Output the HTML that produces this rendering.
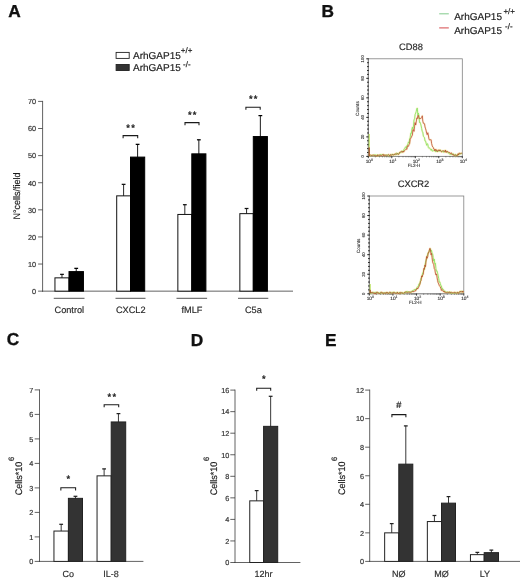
<!DOCTYPE html>
<html lang="en">
<head>
<meta charset="utf-8">
<title>ArhGAP15 figure</title>
<style>
html,body{margin:0;padding:0;background:#fff;}
body{width:520px;height:581px;overflow:hidden;font-family:"Liberation Sans",sans-serif;}
svg{display:block;will-change:transform;text-rendering:geometricPrecision;font-family:"Liberation Sans",sans-serif;}
</style>
</head>
<body>
<svg width="520" height="581" viewBox="0 0 520 581">
<rect x="0" y="0" width="520" height="581" fill="#fff"/>
<text x="8.30" y="16.70" font-size="17.3" text-anchor="start" fill="#111" font-weight="bold" stroke="#111" stroke-width="0.35">A</text>
<text x="321.50" y="16.70" font-size="17.3" text-anchor="start" fill="#111" font-weight="bold" stroke="#111" stroke-width="0.35">B</text>
<text x="6.70" y="345.40" font-size="17.3" text-anchor="start" fill="#111" font-weight="bold" stroke="#111" stroke-width="0.35">C</text>
<text x="190.80" y="345.90" font-size="17.3" text-anchor="start" fill="#111" font-weight="bold" stroke="#111" stroke-width="0.35">D</text>
<text x="325.00" y="345.70" font-size="17.3" text-anchor="start" fill="#111" font-weight="bold" stroke="#111" stroke-width="0.35">E</text>
<line x1="42.60" y1="100.90" x2="42.60" y2="291.65" stroke="#3a3a3a" stroke-width="0.8"/>
<line x1="38.10" y1="291.15" x2="42.60" y2="291.15" stroke="#3a3a3a" stroke-width="0.8"/>
<text x="36.10" y="293.96" font-size="7.3" text-anchor="end" fill="#333" font-weight="normal"  stroke="#333" stroke-width="0.18">0</text>
<line x1="38.10" y1="264.04" x2="42.60" y2="264.04" stroke="#3a3a3a" stroke-width="0.8"/>
<text x="36.10" y="266.85" font-size="7.3" text-anchor="end" fill="#333" font-weight="normal"  stroke="#333" stroke-width="0.18">10</text>
<line x1="38.10" y1="236.94" x2="42.60" y2="236.94" stroke="#3a3a3a" stroke-width="0.8"/>
<text x="36.10" y="239.75" font-size="7.3" text-anchor="end" fill="#333" font-weight="normal"  stroke="#333" stroke-width="0.18">20</text>
<line x1="38.10" y1="209.83" x2="42.60" y2="209.83" stroke="#3a3a3a" stroke-width="0.8"/>
<text x="36.10" y="212.64" font-size="7.3" text-anchor="end" fill="#333" font-weight="normal"  stroke="#333" stroke-width="0.18">30</text>
<line x1="38.10" y1="182.72" x2="42.60" y2="182.72" stroke="#3a3a3a" stroke-width="0.8"/>
<text x="36.10" y="185.53" font-size="7.3" text-anchor="end" fill="#333" font-weight="normal"  stroke="#333" stroke-width="0.18">40</text>
<line x1="38.10" y1="155.61" x2="42.60" y2="155.61" stroke="#3a3a3a" stroke-width="0.8"/>
<text x="36.10" y="158.42" font-size="7.3" text-anchor="end" fill="#333" font-weight="normal"  stroke="#333" stroke-width="0.18">50</text>
<line x1="38.10" y1="128.51" x2="42.60" y2="128.51" stroke="#3a3a3a" stroke-width="0.8"/>
<text x="36.10" y="131.32" font-size="7.3" text-anchor="end" fill="#333" font-weight="normal"  stroke="#333" stroke-width="0.18">60</text>
<line x1="38.10" y1="101.40" x2="42.60" y2="101.40" stroke="#3a3a3a" stroke-width="0.8"/>
<text x="36.10" y="104.21" font-size="7.3" text-anchor="end" fill="#333" font-weight="normal"  stroke="#333" stroke-width="0.18">70</text>
<line x1="42.10" y1="291.15" x2="293.00" y2="291.15" stroke="#3a3a3a" stroke-width="0.8"/>
<text transform="translate(20.20,219.60) rotate(-90) scale(1,1.06)" font-size="9" fill="#1a1a1a" stroke="#1a1a1a" stroke-width="0.15">N°cells/field</text>
<line x1="61.98" y1="274.25" x2="61.98" y2="278.35" stroke="#111" stroke-width="0.9"/>
<line x1="60.08" y1="274.35" x2="63.88" y2="274.35" stroke="#111" stroke-width="1.25"/>
<rect x="54.95" y="277.85" width="14.05" height="13.30" fill="#fff" stroke="#111" stroke-width="1"/>
<line x1="76.22" y1="268.25" x2="76.22" y2="272.10" stroke="#000" stroke-width="0.9"/>
<line x1="74.32" y1="268.35" x2="78.12" y2="268.35" stroke="#000" stroke-width="1.25"/>
<rect x="69.00" y="271.60" width="14.45" height="19.55" fill="#000" stroke="#000" stroke-width="1"/>
<line x1="123.60" y1="184.25" x2="123.60" y2="196.35" stroke="#111" stroke-width="0.9"/>
<line x1="121.70" y1="184.35" x2="125.50" y2="184.35" stroke="#111" stroke-width="1.25"/>
<rect x="116.70" y="195.85" width="13.80" height="95.30" fill="#fff" stroke="#111" stroke-width="1"/>
<line x1="137.60" y1="144.25" x2="137.60" y2="157.60" stroke="#000" stroke-width="0.9"/>
<line x1="135.70" y1="144.35" x2="139.50" y2="144.35" stroke="#000" stroke-width="1.25"/>
<rect x="130.50" y="157.10" width="14.20" height="134.05" fill="#000" stroke="#000" stroke-width="1"/>
<line x1="184.82" y1="204.60" x2="184.82" y2="214.95" stroke="#111" stroke-width="0.9"/>
<line x1="182.92" y1="204.70" x2="186.72" y2="204.70" stroke="#111" stroke-width="1.25"/>
<rect x="177.85" y="214.45" width="13.95" height="76.70" fill="#fff" stroke="#111" stroke-width="1"/>
<line x1="198.85" y1="139.70" x2="198.85" y2="154.35" stroke="#000" stroke-width="0.9"/>
<line x1="196.95" y1="139.80" x2="200.75" y2="139.80" stroke="#000" stroke-width="1.25"/>
<rect x="191.80" y="153.85" width="14.10" height="137.30" fill="#000" stroke="#000" stroke-width="1"/>
<line x1="246.57" y1="208.40" x2="246.57" y2="214.15" stroke="#111" stroke-width="0.9"/>
<line x1="244.67" y1="208.50" x2="248.47" y2="208.50" stroke="#111" stroke-width="1.25"/>
<rect x="239.85" y="213.65" width="13.45" height="77.50" fill="#fff" stroke="#111" stroke-width="1"/>
<line x1="260.35" y1="115.50" x2="260.35" y2="137.05" stroke="#000" stroke-width="0.9"/>
<line x1="258.45" y1="115.60" x2="262.25" y2="115.60" stroke="#000" stroke-width="1.25"/>
<rect x="253.30" y="136.55" width="14.10" height="154.60" fill="#000" stroke="#000" stroke-width="1"/>
<path d="M123.10,138.20 V135.60 H137.70 V138.20" fill="none" stroke="#1a1a1a" stroke-width="1.05"/>
<text x="131.20" y="130.60" font-size="9.4" text-anchor="middle" fill="#222" font-weight="normal" stroke="#222" stroke-width="0.35" letter-spacing="1.2">**</text>
<path d="M185.00,125.20 V122.60 H199.00 V125.20" fill="none" stroke="#1a1a1a" stroke-width="1.05"/>
<text x="192.80" y="118.30" font-size="9.4" text-anchor="middle" fill="#222" font-weight="normal" stroke="#222" stroke-width="0.35" letter-spacing="1.2">**</text>
<path d="M245.90,109.80 V107.20 H260.20 V109.80" fill="none" stroke="#1a1a1a" stroke-width="1.05"/>
<text x="253.85" y="102.20" font-size="9.4" text-anchor="middle" fill="#222" font-weight="normal" stroke="#222" stroke-width="0.35" letter-spacing="1.2">**</text>
<line x1="53.75" y1="298.30" x2="84.50" y2="298.30" stroke="#555" stroke-width="1"/>
<text x="69.33" y="312.60" font-size="9.2" text-anchor="middle" fill="#2a2a2a" font-weight="normal"  stroke="#2a2a2a" stroke-width="0.18">Control</text>
<line x1="115.50" y1="298.30" x2="145.50" y2="298.30" stroke="#555" stroke-width="1"/>
<text x="130.70" y="312.60" font-size="9.2" text-anchor="middle" fill="#2a2a2a" font-weight="normal"  stroke="#2a2a2a" stroke-width="0.18">CXCL2</text>
<line x1="176.50" y1="298.30" x2="207.10" y2="298.30" stroke="#555" stroke-width="1"/>
<text x="192.00" y="312.60" font-size="9.2" text-anchor="middle" fill="#2a2a2a" font-weight="normal"  stroke="#2a2a2a" stroke-width="0.18">fMLF</text>
<line x1="238.00" y1="298.30" x2="268.30" y2="298.30" stroke="#555" stroke-width="1"/>
<text x="253.35" y="312.60" font-size="9.2" text-anchor="middle" fill="#2a2a2a" font-weight="normal"  stroke="#2a2a2a" stroke-width="0.18">C5a</text>
<rect x="116.1" y="52.4" width="13.1" height="6.0" fill="#fff" stroke="#222" stroke-width="0.9"/>
<rect x="116.1" y="64.5" width="13.1" height="6.0" fill="#333" stroke="#222" stroke-width="0.9"/>
<text x="133.00" y="58.80" font-size="10" text-anchor="start" fill="#222" font-weight="normal"  stroke="#222" stroke-width="0.18">ArhGAP15</text>
<text x="133.00" y="71.30" font-size="10" text-anchor="start" fill="#222" font-weight="normal"  stroke="#222" stroke-width="0.18">ArhGAP15</text>
<text x="180.80" y="53.20" font-size="8" text-anchor="start" fill="#222" font-weight="normal"  stroke="#222" stroke-width="0.18">+/+</text>
<text x="183.00" y="67.10" font-size="8" text-anchor="start" fill="#222" font-weight="normal"  stroke="#222" stroke-width="0.18">-/-</text>
<line x1="439.20" y1="13.80" x2="448.80" y2="13.80" stroke="#8ccf96" stroke-width="1.1"/>
<line x1="439.20" y1="27.90" x2="448.80" y2="27.90" stroke="#d8575a" stroke-width="1.1"/>
<text x="454.20" y="20.30" font-size="10" text-anchor="start" fill="#222" font-weight="normal"  stroke="#222" stroke-width="0.18">ArhGAP15</text>
<text x="454.20" y="33.80" font-size="10" text-anchor="start" fill="#222" font-weight="normal"  stroke="#222" stroke-width="0.18">ArhGAP15</text>
<text x="503.40" y="14.40" font-size="8" text-anchor="start" fill="#222" font-weight="normal"  stroke="#222" stroke-width="0.18">+/+</text>
<text x="505.00" y="28.60" font-size="8" text-anchor="start" fill="#222" font-weight="normal"  stroke="#222" stroke-width="0.18">-/-</text>
<rect x="368.3" y="58.8" width="94.00" height="97.60" fill="#fff" stroke="#808080" stroke-width="0.8"/>
<line x1="368.30" y1="58.80" x2="368.30" y2="156.40" stroke="#777" stroke-width="0.9"/>
<line x1="366.30" y1="156.40" x2="368.70" y2="156.40" stroke="#1a1a1a" stroke-width="1.0"/>
<line x1="367.10" y1="152.50" x2="368.70" y2="152.50" stroke="#1a1a1a" stroke-width="1.0"/>
<line x1="367.10" y1="148.59" x2="368.70" y2="148.59" stroke="#1a1a1a" stroke-width="1.0"/>
<line x1="367.10" y1="144.69" x2="368.70" y2="144.69" stroke="#1a1a1a" stroke-width="1.0"/>
<line x1="367.10" y1="140.78" x2="368.70" y2="140.78" stroke="#1a1a1a" stroke-width="1.0"/>
<line x1="366.30" y1="136.88" x2="368.70" y2="136.88" stroke="#1a1a1a" stroke-width="1.0"/>
<line x1="367.10" y1="132.98" x2="368.70" y2="132.98" stroke="#1a1a1a" stroke-width="1.0"/>
<line x1="367.10" y1="129.07" x2="368.70" y2="129.07" stroke="#1a1a1a" stroke-width="1.0"/>
<line x1="367.10" y1="125.17" x2="368.70" y2="125.17" stroke="#1a1a1a" stroke-width="1.0"/>
<line x1="367.10" y1="121.26" x2="368.70" y2="121.26" stroke="#1a1a1a" stroke-width="1.0"/>
<line x1="366.30" y1="117.36" x2="368.70" y2="117.36" stroke="#1a1a1a" stroke-width="1.0"/>
<line x1="367.10" y1="113.46" x2="368.70" y2="113.46" stroke="#1a1a1a" stroke-width="1.0"/>
<line x1="367.10" y1="109.55" x2="368.70" y2="109.55" stroke="#1a1a1a" stroke-width="1.0"/>
<line x1="367.10" y1="105.65" x2="368.70" y2="105.65" stroke="#1a1a1a" stroke-width="1.0"/>
<line x1="367.10" y1="101.74" x2="368.70" y2="101.74" stroke="#1a1a1a" stroke-width="1.0"/>
<line x1="366.30" y1="97.84" x2="368.70" y2="97.84" stroke="#1a1a1a" stroke-width="1.0"/>
<line x1="367.10" y1="93.94" x2="368.70" y2="93.94" stroke="#1a1a1a" stroke-width="1.0"/>
<line x1="367.10" y1="90.03" x2="368.70" y2="90.03" stroke="#1a1a1a" stroke-width="1.0"/>
<line x1="367.10" y1="86.13" x2="368.70" y2="86.13" stroke="#1a1a1a" stroke-width="1.0"/>
<line x1="367.10" y1="82.22" x2="368.70" y2="82.22" stroke="#1a1a1a" stroke-width="1.0"/>
<line x1="366.30" y1="78.32" x2="368.70" y2="78.32" stroke="#1a1a1a" stroke-width="1.0"/>
<line x1="367.10" y1="74.42" x2="368.70" y2="74.42" stroke="#1a1a1a" stroke-width="1.0"/>
<line x1="367.10" y1="70.51" x2="368.70" y2="70.51" stroke="#1a1a1a" stroke-width="1.0"/>
<line x1="367.10" y1="66.61" x2="368.70" y2="66.61" stroke="#1a1a1a" stroke-width="1.0"/>
<line x1="367.10" y1="62.70" x2="368.70" y2="62.70" stroke="#1a1a1a" stroke-width="1.0"/>
<line x1="366.30" y1="58.80" x2="368.70" y2="58.80" stroke="#1a1a1a" stroke-width="1.0"/>
<line x1="368.30" y1="156.40" x2="462.30" y2="156.40" stroke="#8a8a8a" stroke-width="0.8"/>
<line x1="368.30" y1="156.10" x2="368.30" y2="158.20" stroke="#222" stroke-width="0.9"/>
<line x1="375.37" y1="156.20" x2="375.37" y2="157.40" stroke="#444" stroke-width="0.55"/>
<line x1="379.51" y1="156.20" x2="379.51" y2="157.40" stroke="#444" stroke-width="0.55"/>
<line x1="382.45" y1="156.20" x2="382.45" y2="157.40" stroke="#444" stroke-width="0.55"/>
<line x1="384.73" y1="156.20" x2="384.73" y2="157.40" stroke="#444" stroke-width="0.55"/>
<line x1="386.59" y1="156.20" x2="386.59" y2="157.40" stroke="#444" stroke-width="0.55"/>
<line x1="388.16" y1="156.20" x2="388.16" y2="157.40" stroke="#444" stroke-width="0.55"/>
<line x1="389.52" y1="156.20" x2="389.52" y2="157.40" stroke="#444" stroke-width="0.55"/>
<line x1="390.72" y1="156.20" x2="390.72" y2="157.40" stroke="#444" stroke-width="0.55"/>
<line x1="391.80" y1="156.10" x2="391.80" y2="158.20" stroke="#222" stroke-width="0.9"/>
<line x1="398.87" y1="156.20" x2="398.87" y2="157.40" stroke="#444" stroke-width="0.55"/>
<line x1="403.01" y1="156.20" x2="403.01" y2="157.40" stroke="#444" stroke-width="0.55"/>
<line x1="405.95" y1="156.20" x2="405.95" y2="157.40" stroke="#444" stroke-width="0.55"/>
<line x1="408.23" y1="156.20" x2="408.23" y2="157.40" stroke="#444" stroke-width="0.55"/>
<line x1="410.09" y1="156.20" x2="410.09" y2="157.40" stroke="#444" stroke-width="0.55"/>
<line x1="411.66" y1="156.20" x2="411.66" y2="157.40" stroke="#444" stroke-width="0.55"/>
<line x1="413.02" y1="156.20" x2="413.02" y2="157.40" stroke="#444" stroke-width="0.55"/>
<line x1="414.22" y1="156.20" x2="414.22" y2="157.40" stroke="#444" stroke-width="0.55"/>
<line x1="415.30" y1="156.10" x2="415.30" y2="158.20" stroke="#222" stroke-width="0.9"/>
<line x1="422.37" y1="156.20" x2="422.37" y2="157.40" stroke="#444" stroke-width="0.55"/>
<line x1="426.51" y1="156.20" x2="426.51" y2="157.40" stroke="#444" stroke-width="0.55"/>
<line x1="429.45" y1="156.20" x2="429.45" y2="157.40" stroke="#444" stroke-width="0.55"/>
<line x1="431.73" y1="156.20" x2="431.73" y2="157.40" stroke="#444" stroke-width="0.55"/>
<line x1="433.59" y1="156.20" x2="433.59" y2="157.40" stroke="#444" stroke-width="0.55"/>
<line x1="435.16" y1="156.20" x2="435.16" y2="157.40" stroke="#444" stroke-width="0.55"/>
<line x1="436.52" y1="156.20" x2="436.52" y2="157.40" stroke="#444" stroke-width="0.55"/>
<line x1="437.72" y1="156.20" x2="437.72" y2="157.40" stroke="#444" stroke-width="0.55"/>
<line x1="438.80" y1="156.10" x2="438.80" y2="158.20" stroke="#222" stroke-width="0.9"/>
<line x1="445.87" y1="156.20" x2="445.87" y2="157.40" stroke="#444" stroke-width="0.55"/>
<line x1="450.01" y1="156.20" x2="450.01" y2="157.40" stroke="#444" stroke-width="0.55"/>
<line x1="452.95" y1="156.20" x2="452.95" y2="157.40" stroke="#444" stroke-width="0.55"/>
<line x1="455.23" y1="156.20" x2="455.23" y2="157.40" stroke="#444" stroke-width="0.55"/>
<line x1="457.09" y1="156.20" x2="457.09" y2="157.40" stroke="#444" stroke-width="0.55"/>
<line x1="458.66" y1="156.20" x2="458.66" y2="157.40" stroke="#444" stroke-width="0.55"/>
<line x1="460.02" y1="156.20" x2="460.02" y2="157.40" stroke="#444" stroke-width="0.55"/>
<line x1="461.22" y1="156.20" x2="461.22" y2="157.40" stroke="#444" stroke-width="0.55"/>
<line x1="462.30" y1="156.10" x2="462.30" y2="158.20" stroke="#222" stroke-width="0.9"/>
<text transform="translate(364.40,156.40) rotate(-90)" font-size="4.3" text-anchor="middle" fill="#333" stroke="#333" stroke-width="0.12">0</text>
<text transform="translate(364.40,136.88) rotate(-90)" font-size="4.3" text-anchor="middle" fill="#333" stroke="#333" stroke-width="0.12">20</text>
<text transform="translate(364.40,117.36) rotate(-90)" font-size="4.3" text-anchor="middle" fill="#333" stroke="#333" stroke-width="0.12">40</text>
<text transform="translate(364.40,97.84) rotate(-90)" font-size="4.3" text-anchor="middle" fill="#333" stroke="#333" stroke-width="0.12">60</text>
<text transform="translate(364.40,78.32) rotate(-90)" font-size="4.3" text-anchor="middle" fill="#333" stroke="#333" stroke-width="0.12">80</text>
<text transform="translate(364.40,58.80) rotate(-90)" font-size="4.3" text-anchor="middle" fill="#333" stroke="#333" stroke-width="0.12">100</text>
<text transform="translate(358.90,108.60) rotate(-90)" font-size="4.6" text-anchor="middle" fill="#333" stroke="#333" stroke-width="0.12">Counts</text>
<text x="369.30" y="163.00" font-size="4.8" text-anchor="middle" fill="#333" stroke="#333" stroke-width="0.12">10<tspan font-size="3.6" dy="-2.0">0</tspan></text>
<text x="392.80" y="163.00" font-size="4.8" text-anchor="middle" fill="#333" stroke="#333" stroke-width="0.12">10<tspan font-size="3.6" dy="-2.0">1</tspan></text>
<text x="416.30" y="163.00" font-size="4.8" text-anchor="middle" fill="#333" stroke="#333" stroke-width="0.12">10<tspan font-size="3.6" dy="-2.0">2</tspan></text>
<text x="439.80" y="163.00" font-size="4.8" text-anchor="middle" fill="#333" stroke="#333" stroke-width="0.12">10<tspan font-size="3.6" dy="-2.0">3</tspan></text>
<text x="463.30" y="163.00" font-size="4.8" text-anchor="middle" fill="#333" stroke="#333" stroke-width="0.12">10<tspan font-size="3.6" dy="-2.0">4</tspan></text>
<text x="414.10" y="167.00" font-size="4.5" text-anchor="middle" fill="#333" font-weight="normal" stroke="#333" stroke-width="0.12">FL2-H</text>
<text x="411.00" y="49.70" font-size="9.3" text-anchor="middle" fill="#2a2a2a" font-weight="normal"  stroke="#2a2a2a" stroke-width="0.18">CD88</text>
<path d="M368.9,155.3 L369.5,155.5 L370.0,156.0 L370.6,155.3 L371.1,155.4 L371.7,155.5 L372.2,155.0 L372.8,155.4 L373.3,155.5 L373.9,155.7 L374.4,154.8 L375.0,155.1 L375.5,154.8 L376.1,155.7 L376.6,155.5 L377.2,154.7 L377.7,155.9 L378.3,155.9 L378.8,155.4 L379.4,155.4 L379.9,154.7 L380.5,154.5 L381.0,155.2 L381.6,154.6 L382.1,154.7 L382.7,154.8 L383.2,154.5 L383.8,155.1 L384.3,155.0 L384.9,155.6 L385.4,155.1 L386.0,155.3 L386.5,155.1 L387.1,155.3 L387.6,155.0 L388.2,154.7 L388.7,155.7 L389.3,155.7 L389.8,155.5 L390.4,155.3 L390.9,154.7 L391.5,154.6 L392.0,154.7 L392.6,154.3 L393.1,155.2 L393.7,154.5 L394.2,155.0 L394.8,154.2 L395.3,154.8 L395.9,154.5 L396.4,153.0 L397.0,153.2 L397.5,154.3 L398.1,153.6 L398.6,154.3 L399.2,153.1 L399.7,152.2 L400.3,152.8 L400.8,152.7 L401.4,151.4 L401.9,150.9 L402.5,151.3 L403.0,152.1 L403.6,151.1 L404.1,149.0 L404.7,148.4 L405.2,147.3 L405.8,146.8 L406.3,148.4 L406.9,145.8 L407.4,145.3 L408.0,143.6 L408.5,141.9 L409.1,143.0 L409.6,138.6 L410.2,137.6 L410.7,133.2 L411.3,133.7 L411.8,130.1 L412.4,127.1 L412.9,129.1 L413.5,126.1 L414.0,119.9 L414.6,118.9 L415.1,114.6 L415.7,113.1 L416.2,111.7 L416.8,108.7 L417.3,108.0 L417.9,115.3 L418.4,113.0 L419.0,116.3 L419.5,122.5 L420.1,122.2 L420.6,123.8 L421.2,126.0 L421.7,128.7 L422.3,131.7 L422.8,132.1 L423.4,136.3 L423.9,136.9 L424.5,137.7 L425.0,141.0 L425.6,141.1 L426.1,143.2 L426.7,145.3 L427.2,143.6 L427.8,144.2 L428.3,147.4 L428.9,148.3 L429.4,147.9 L430.0,148.3 L430.5,149.6 L431.1,150.3 L431.6,149.0 L432.2,151.0 L432.7,151.1 L433.3,150.8 L433.8,150.6 L434.4,150.0 L434.9,149.9 L435.5,151.8 L436.0,150.3 L436.6,151.3 L437.1,150.4 L437.7,151.6 L438.2,151.1 L438.8,150.6 L439.3,150.3 L439.9,151.4 L440.4,150.2 L441.0,150.5 L441.5,151.2 L442.1,151.9 L442.6,151.5 L443.2,151.0 L443.7,152.3 L444.3,151.0 L444.8,150.7 L445.4,151.2 L445.9,151.7 L446.5,151.2 L447.0,151.8 L447.6,152.5 L448.1,153.2 L448.7,152.8 L449.2,153.4 L449.8,154.4 L450.3,154.6 L450.9,154.1 L451.4,154.3 L452.0,154.3 L452.5,153.8 L453.1,153.8 L453.6,154.0 L454.2,155.5 L454.7,155.3 L455.3,155.8 L455.8,154.5 L456.4,155.4 L456.9,155.1 L457.5,155.2 L458.0,154.4 L458.6,155.1 L459.1,153.5 L459.7,153.9 L460.2,153.9 L460.8,154.0 L461.3,153.5 L461.9,153.4" fill="none" stroke="#e8e060" stroke-width="2.0" stroke-linejoin="round" opacity="0.28"/>
<path d="M368.9,154.9 L369.5,155.6 L370.0,155.1 L370.6,154.9 L371.1,155.4 L371.7,155.4 L372.2,155.3 L372.8,155.3 L373.3,155.0 L373.9,155.0 L374.4,155.6 L375.0,155.1 L375.5,155.6 L376.1,155.8 L376.6,155.9 L377.2,156.0 L377.7,154.9 L378.3,154.9 L378.8,155.6 L379.4,155.4 L379.9,154.8 L380.5,155.5 L381.0,155.8 L381.6,155.7 L382.1,154.8 L382.7,154.9 L383.2,154.4 L383.8,155.9 L384.3,154.7 L384.9,155.5 L385.4,155.2 L386.0,155.3 L386.5,155.2 L387.1,155.6 L387.6,155.3 L388.2,154.8 L388.7,154.5 L389.3,155.1 L389.8,155.8 L390.4,154.5 L390.9,155.4 L391.5,155.3 L392.0,154.6 L392.6,154.6 L393.1,155.2 L393.7,154.7 L394.2,154.5 L394.8,154.4 L395.3,153.6 L395.9,154.5 L396.4,154.2 L397.0,154.0 L397.5,153.5 L398.1,154.4 L398.6,154.3 L399.2,153.6 L399.7,152.4 L400.3,152.1 L400.8,151.8 L401.4,151.4 L401.9,152.4 L402.5,152.1 L403.0,151.1 L403.6,152.1 L404.1,150.9 L404.7,150.6 L405.2,150.2 L405.8,149.5 L406.3,148.9 L406.9,149.4 L407.4,145.8 L408.0,146.4 L408.5,146.3 L409.1,144.5 L409.6,144.0 L410.2,139.2 L410.7,138.4 L411.3,137.3 L411.8,136.1 L412.4,135.1 L412.9,129.8 L413.5,129.7 L414.0,131.4 L414.6,126.2 L415.1,122.6 L415.7,125.0 L416.2,122.1 L416.8,117.9 L417.3,118.6 L417.9,115.5 L418.4,115.5 L419.0,118.2 L419.5,118.9 L420.1,118.2 L420.6,118.5 L421.2,118.3 L421.7,117.4 L422.3,115.8 L422.8,121.1 L423.4,123.4 L423.9,123.1 L424.5,123.7 L425.0,126.9 L425.6,128.8 L426.1,130.5 L426.7,133.5 L427.2,134.7 L427.8,132.7 L428.3,134.8 L428.9,138.7 L429.4,139.9 L430.0,140.1 L430.5,139.7 L431.1,139.7 L431.6,143.4 L432.2,145.7 L432.7,146.9 L433.3,147.4 L433.8,149.1 L434.4,149.2 L434.9,151.0 L435.5,149.5 L436.0,149.2 L436.6,151.2 L437.1,151.1 L437.7,151.5 L438.2,149.9 L438.8,150.3 L439.3,151.0 L439.9,149.8 L440.4,150.5 L441.0,151.1 L441.5,151.9 L442.1,151.4 L442.6,150.7 L443.2,150.8 L443.7,151.0 L444.3,151.5 L444.8,152.1 L445.4,150.0 L445.9,152.3 L446.5,152.3 L447.0,151.0 L447.6,151.7 L448.1,152.1 L448.7,152.3 L449.2,152.4 L449.8,152.5 L450.3,153.6 L450.9,153.2 L451.4,152.8 L452.0,154.5 L452.5,154.7 L453.1,154.1 L453.6,155.3 L454.2,155.4 L454.7,155.2 L455.3,154.6 L455.8,155.5 L456.4,155.6 L456.9,155.5 L457.5,155.4 L458.0,153.8 L458.6,154.9 L459.1,153.1 L459.7,153.3 L460.2,153.4 L460.8,153.4 L461.3,153.0 L461.9,153.6" fill="none" stroke="#f0c040" stroke-width="2.0" stroke-linejoin="round" opacity="0.25"/>
<path d="M368.9,155.3 L369.5,155.5 L370.0,156.0 L370.6,155.3 L371.1,155.4 L371.7,155.5 L372.2,155.0 L372.8,155.4 L373.3,155.5 L373.9,155.7 L374.4,154.8 L375.0,155.1 L375.5,154.8 L376.1,155.7 L376.6,155.5 L377.2,154.7 L377.7,155.9 L378.3,155.9 L378.8,155.4 L379.4,155.4 L379.9,154.7 L380.5,154.5 L381.0,155.2 L381.6,154.6 L382.1,154.7 L382.7,154.8 L383.2,154.5 L383.8,155.1 L384.3,155.0 L384.9,155.6 L385.4,155.1 L386.0,155.3 L386.5,155.1 L387.1,155.3 L387.6,155.0 L388.2,154.7 L388.7,155.7 L389.3,155.7 L389.8,155.5 L390.4,155.3 L390.9,154.7 L391.5,154.6 L392.0,154.7 L392.6,154.3 L393.1,155.2 L393.7,154.5 L394.2,155.0 L394.8,154.2 L395.3,154.8 L395.9,154.5 L396.4,153.0 L397.0,153.2 L397.5,154.3 L398.1,153.6 L398.6,154.3 L399.2,153.1 L399.7,152.2 L400.3,152.8 L400.8,152.7 L401.4,151.4 L401.9,150.9 L402.5,151.3 L403.0,152.1 L403.6,151.1 L404.1,149.0 L404.7,148.4 L405.2,147.3 L405.8,146.8 L406.3,148.4 L406.9,145.8 L407.4,145.3 L408.0,143.6 L408.5,141.9 L409.1,143.0 L409.6,138.6 L410.2,137.6 L410.7,133.2 L411.3,133.7 L411.8,130.1 L412.4,127.1 L412.9,129.1 L413.5,126.1 L414.0,119.9 L414.6,118.9 L415.1,114.6 L415.7,113.1 L416.2,111.7 L416.8,108.7 L417.3,108.0 L417.9,115.3 L418.4,113.0 L419.0,116.3 L419.5,122.5 L420.1,122.2 L420.6,123.8 L421.2,126.0 L421.7,128.7 L422.3,131.7 L422.8,132.1 L423.4,136.3 L423.9,136.9 L424.5,137.7 L425.0,141.0 L425.6,141.1 L426.1,143.2 L426.7,145.3 L427.2,143.6 L427.8,144.2 L428.3,147.4 L428.9,148.3 L429.4,147.9 L430.0,148.3 L430.5,149.6 L431.1,150.3 L431.6,149.0 L432.2,151.0 L432.7,151.1 L433.3,150.8 L433.8,150.6 L434.4,150.0 L434.9,149.9 L435.5,151.8 L436.0,150.3 L436.6,151.3 L437.1,150.4 L437.7,151.6 L438.2,151.1 L438.8,150.6 L439.3,150.3 L439.9,151.4 L440.4,150.2 L441.0,150.5 L441.5,151.2 L442.1,151.9 L442.6,151.5 L443.2,151.0 L443.7,152.3 L444.3,151.0 L444.8,150.7 L445.4,151.2 L445.9,151.7 L446.5,151.2 L447.0,151.8 L447.6,152.5 L448.1,153.2 L448.7,152.8 L449.2,153.4 L449.8,154.4 L450.3,154.6 L450.9,154.1 L451.4,154.3 L452.0,154.3 L452.5,153.8 L453.1,153.8 L453.6,154.0 L454.2,155.5 L454.7,155.3 L455.3,155.8 L455.8,154.5 L456.4,155.4 L456.9,155.1 L457.5,155.2 L458.0,154.4 L458.6,155.1 L459.1,153.5 L459.7,153.9 L460.2,153.9 L460.8,154.0 L461.3,153.5 L461.9,153.4" fill="none" stroke="#92e46c" stroke-width="1.0" stroke-linejoin="round" opacity="0.95"/>
<path d="M368.9,154.9 L369.5,155.6 L370.0,155.1 L370.6,154.9 L371.1,155.4 L371.7,155.4 L372.2,155.3 L372.8,155.3 L373.3,155.0 L373.9,155.0 L374.4,155.6 L375.0,155.1 L375.5,155.6 L376.1,155.8 L376.6,155.9 L377.2,156.0 L377.7,154.9 L378.3,154.9 L378.8,155.6 L379.4,155.4 L379.9,154.8 L380.5,155.5 L381.0,155.8 L381.6,155.7 L382.1,154.8 L382.7,154.9 L383.2,154.4 L383.8,155.9 L384.3,154.7 L384.9,155.5 L385.4,155.2 L386.0,155.3 L386.5,155.2 L387.1,155.6 L387.6,155.3 L388.2,154.8 L388.7,154.5 L389.3,155.1 L389.8,155.8 L390.4,154.5 L390.9,155.4 L391.5,155.3 L392.0,154.6 L392.6,154.6 L393.1,155.2 L393.7,154.7 L394.2,154.5 L394.8,154.4 L395.3,153.6 L395.9,154.5 L396.4,154.2 L397.0,154.0 L397.5,153.5 L398.1,154.4 L398.6,154.3 L399.2,153.6 L399.7,152.4 L400.3,152.1 L400.8,151.8 L401.4,151.4 L401.9,152.4 L402.5,152.1 L403.0,151.1 L403.6,152.1 L404.1,150.9 L404.7,150.6 L405.2,150.2 L405.8,149.5 L406.3,148.9 L406.9,149.4 L407.4,145.8 L408.0,146.4 L408.5,146.3 L409.1,144.5 L409.6,144.0 L410.2,139.2 L410.7,138.4 L411.3,137.3 L411.8,136.1 L412.4,135.1 L412.9,129.8 L413.5,129.7 L414.0,131.4 L414.6,126.2 L415.1,122.6 L415.7,125.0 L416.2,122.1 L416.8,117.9 L417.3,118.6 L417.9,115.5 L418.4,115.5 L419.0,118.2 L419.5,118.9 L420.1,118.2 L420.6,118.5 L421.2,118.3 L421.7,117.4 L422.3,115.8 L422.8,121.1 L423.4,123.4 L423.9,123.1 L424.5,123.7 L425.0,126.9 L425.6,128.8 L426.1,130.5 L426.7,133.5 L427.2,134.7 L427.8,132.7 L428.3,134.8 L428.9,138.7 L429.4,139.9 L430.0,140.1 L430.5,139.7 L431.1,139.7 L431.6,143.4 L432.2,145.7 L432.7,146.9 L433.3,147.4 L433.8,149.1 L434.4,149.2 L434.9,151.0 L435.5,149.5 L436.0,149.2 L436.6,151.2 L437.1,151.1 L437.7,151.5 L438.2,149.9 L438.8,150.3 L439.3,151.0 L439.9,149.8 L440.4,150.5 L441.0,151.1 L441.5,151.9 L442.1,151.4 L442.6,150.7 L443.2,150.8 L443.7,151.0 L444.3,151.5 L444.8,152.1 L445.4,150.0 L445.9,152.3 L446.5,152.3 L447.0,151.0 L447.6,151.7 L448.1,152.1 L448.7,152.3 L449.2,152.4 L449.8,152.5 L450.3,153.6 L450.9,153.2 L451.4,152.8 L452.0,154.5 L452.5,154.7 L453.1,154.1 L453.6,155.3 L454.2,155.4 L454.7,155.2 L455.3,154.6 L455.8,155.5 L456.4,155.6 L456.9,155.5 L457.5,155.4 L458.0,153.8 L458.6,154.9 L459.1,153.1 L459.7,153.3 L460.2,153.4 L460.8,153.4 L461.3,153.0 L461.9,153.6" fill="none" stroke="#b8412a" stroke-width="0.9" stroke-linejoin="round" opacity="0.82"/>
<line x1="369.20" y1="134.00" x2="369.20" y2="155.40" stroke="#b4e050" stroke-width="1.0"/>
<line x1="369.20" y1="147.44" x2="369.20" y2="155.90" stroke="#a03020" stroke-width="1.0"/>
<rect x="369.3" y="196.0" width="94.50" height="97.80" fill="#fff" stroke="#808080" stroke-width="0.8"/>
<line x1="369.30" y1="196.00" x2="369.30" y2="293.80" stroke="#777" stroke-width="0.9"/>
<line x1="367.30" y1="293.80" x2="369.70" y2="293.80" stroke="#1a1a1a" stroke-width="1.0"/>
<line x1="368.10" y1="289.89" x2="369.70" y2="289.89" stroke="#1a1a1a" stroke-width="1.0"/>
<line x1="368.10" y1="285.98" x2="369.70" y2="285.98" stroke="#1a1a1a" stroke-width="1.0"/>
<line x1="368.10" y1="282.06" x2="369.70" y2="282.06" stroke="#1a1a1a" stroke-width="1.0"/>
<line x1="368.10" y1="278.15" x2="369.70" y2="278.15" stroke="#1a1a1a" stroke-width="1.0"/>
<line x1="367.30" y1="274.24" x2="369.70" y2="274.24" stroke="#1a1a1a" stroke-width="1.0"/>
<line x1="368.10" y1="270.33" x2="369.70" y2="270.33" stroke="#1a1a1a" stroke-width="1.0"/>
<line x1="368.10" y1="266.42" x2="369.70" y2="266.42" stroke="#1a1a1a" stroke-width="1.0"/>
<line x1="368.10" y1="262.50" x2="369.70" y2="262.50" stroke="#1a1a1a" stroke-width="1.0"/>
<line x1="368.10" y1="258.59" x2="369.70" y2="258.59" stroke="#1a1a1a" stroke-width="1.0"/>
<line x1="367.30" y1="254.68" x2="369.70" y2="254.68" stroke="#1a1a1a" stroke-width="1.0"/>
<line x1="368.10" y1="250.77" x2="369.70" y2="250.77" stroke="#1a1a1a" stroke-width="1.0"/>
<line x1="368.10" y1="246.86" x2="369.70" y2="246.86" stroke="#1a1a1a" stroke-width="1.0"/>
<line x1="368.10" y1="242.94" x2="369.70" y2="242.94" stroke="#1a1a1a" stroke-width="1.0"/>
<line x1="368.10" y1="239.03" x2="369.70" y2="239.03" stroke="#1a1a1a" stroke-width="1.0"/>
<line x1="367.30" y1="235.12" x2="369.70" y2="235.12" stroke="#1a1a1a" stroke-width="1.0"/>
<line x1="368.10" y1="231.21" x2="369.70" y2="231.21" stroke="#1a1a1a" stroke-width="1.0"/>
<line x1="368.10" y1="227.30" x2="369.70" y2="227.30" stroke="#1a1a1a" stroke-width="1.0"/>
<line x1="368.10" y1="223.38" x2="369.70" y2="223.38" stroke="#1a1a1a" stroke-width="1.0"/>
<line x1="368.10" y1="219.47" x2="369.70" y2="219.47" stroke="#1a1a1a" stroke-width="1.0"/>
<line x1="367.30" y1="215.56" x2="369.70" y2="215.56" stroke="#1a1a1a" stroke-width="1.0"/>
<line x1="368.10" y1="211.65" x2="369.70" y2="211.65" stroke="#1a1a1a" stroke-width="1.0"/>
<line x1="368.10" y1="207.74" x2="369.70" y2="207.74" stroke="#1a1a1a" stroke-width="1.0"/>
<line x1="368.10" y1="203.82" x2="369.70" y2="203.82" stroke="#1a1a1a" stroke-width="1.0"/>
<line x1="368.10" y1="199.91" x2="369.70" y2="199.91" stroke="#1a1a1a" stroke-width="1.0"/>
<line x1="367.30" y1="196.00" x2="369.70" y2="196.00" stroke="#1a1a1a" stroke-width="1.0"/>
<line x1="369.30" y1="293.80" x2="463.80" y2="293.80" stroke="#8a8a8a" stroke-width="0.8"/>
<line x1="369.30" y1="293.50" x2="369.30" y2="295.60" stroke="#222" stroke-width="0.9"/>
<line x1="376.41" y1="293.60" x2="376.41" y2="294.80" stroke="#444" stroke-width="0.55"/>
<line x1="380.57" y1="293.60" x2="380.57" y2="294.80" stroke="#444" stroke-width="0.55"/>
<line x1="383.52" y1="293.60" x2="383.52" y2="294.80" stroke="#444" stroke-width="0.55"/>
<line x1="385.81" y1="293.60" x2="385.81" y2="294.80" stroke="#444" stroke-width="0.55"/>
<line x1="387.68" y1="293.60" x2="387.68" y2="294.80" stroke="#444" stroke-width="0.55"/>
<line x1="389.27" y1="293.60" x2="389.27" y2="294.80" stroke="#444" stroke-width="0.55"/>
<line x1="390.64" y1="293.60" x2="390.64" y2="294.80" stroke="#444" stroke-width="0.55"/>
<line x1="391.84" y1="293.60" x2="391.84" y2="294.80" stroke="#444" stroke-width="0.55"/>
<line x1="392.93" y1="293.50" x2="392.93" y2="295.60" stroke="#222" stroke-width="0.9"/>
<line x1="400.04" y1="293.60" x2="400.04" y2="294.80" stroke="#444" stroke-width="0.55"/>
<line x1="404.20" y1="293.60" x2="404.20" y2="294.80" stroke="#444" stroke-width="0.55"/>
<line x1="407.15" y1="293.60" x2="407.15" y2="294.80" stroke="#444" stroke-width="0.55"/>
<line x1="409.44" y1="293.60" x2="409.44" y2="294.80" stroke="#444" stroke-width="0.55"/>
<line x1="411.31" y1="293.60" x2="411.31" y2="294.80" stroke="#444" stroke-width="0.55"/>
<line x1="412.89" y1="293.60" x2="412.89" y2="294.80" stroke="#444" stroke-width="0.55"/>
<line x1="414.26" y1="293.60" x2="414.26" y2="294.80" stroke="#444" stroke-width="0.55"/>
<line x1="415.47" y1="293.60" x2="415.47" y2="294.80" stroke="#444" stroke-width="0.55"/>
<line x1="416.55" y1="293.50" x2="416.55" y2="295.60" stroke="#222" stroke-width="0.9"/>
<line x1="423.66" y1="293.60" x2="423.66" y2="294.80" stroke="#444" stroke-width="0.55"/>
<line x1="427.82" y1="293.60" x2="427.82" y2="294.80" stroke="#444" stroke-width="0.55"/>
<line x1="430.77" y1="293.60" x2="430.77" y2="294.80" stroke="#444" stroke-width="0.55"/>
<line x1="433.06" y1="293.60" x2="433.06" y2="294.80" stroke="#444" stroke-width="0.55"/>
<line x1="434.93" y1="293.60" x2="434.93" y2="294.80" stroke="#444" stroke-width="0.55"/>
<line x1="436.52" y1="293.60" x2="436.52" y2="294.80" stroke="#444" stroke-width="0.55"/>
<line x1="437.89" y1="293.60" x2="437.89" y2="294.80" stroke="#444" stroke-width="0.55"/>
<line x1="439.09" y1="293.60" x2="439.09" y2="294.80" stroke="#444" stroke-width="0.55"/>
<line x1="440.18" y1="293.50" x2="440.18" y2="295.60" stroke="#222" stroke-width="0.9"/>
<line x1="447.29" y1="293.60" x2="447.29" y2="294.80" stroke="#444" stroke-width="0.55"/>
<line x1="451.45" y1="293.60" x2="451.45" y2="294.80" stroke="#444" stroke-width="0.55"/>
<line x1="454.40" y1="293.60" x2="454.40" y2="294.80" stroke="#444" stroke-width="0.55"/>
<line x1="456.69" y1="293.60" x2="456.69" y2="294.80" stroke="#444" stroke-width="0.55"/>
<line x1="458.56" y1="293.60" x2="458.56" y2="294.80" stroke="#444" stroke-width="0.55"/>
<line x1="460.14" y1="293.60" x2="460.14" y2="294.80" stroke="#444" stroke-width="0.55"/>
<line x1="461.51" y1="293.60" x2="461.51" y2="294.80" stroke="#444" stroke-width="0.55"/>
<line x1="462.72" y1="293.60" x2="462.72" y2="294.80" stroke="#444" stroke-width="0.55"/>
<line x1="463.80" y1="293.50" x2="463.80" y2="295.60" stroke="#222" stroke-width="0.9"/>
<text transform="translate(365.40,293.80) rotate(-90)" font-size="4.3" text-anchor="middle" fill="#333" stroke="#333" stroke-width="0.12">0</text>
<text transform="translate(365.40,274.24) rotate(-90)" font-size="4.3" text-anchor="middle" fill="#333" stroke="#333" stroke-width="0.12">20</text>
<text transform="translate(365.40,254.68) rotate(-90)" font-size="4.3" text-anchor="middle" fill="#333" stroke="#333" stroke-width="0.12">40</text>
<text transform="translate(365.40,235.12) rotate(-90)" font-size="4.3" text-anchor="middle" fill="#333" stroke="#333" stroke-width="0.12">60</text>
<text transform="translate(365.40,215.56) rotate(-90)" font-size="4.3" text-anchor="middle" fill="#333" stroke="#333" stroke-width="0.12">80</text>
<text transform="translate(365.40,196.00) rotate(-90)" font-size="4.3" text-anchor="middle" fill="#333" stroke="#333" stroke-width="0.12">100</text>
<text transform="translate(359.90,245.90) rotate(-90)" font-size="4.6" text-anchor="middle" fill="#333" stroke="#333" stroke-width="0.12">Counts</text>
<text x="370.30" y="300.40" font-size="4.8" text-anchor="middle" fill="#333" stroke="#333" stroke-width="0.12">10<tspan font-size="3.6" dy="-2.0">0</tspan></text>
<text x="393.93" y="300.40" font-size="4.8" text-anchor="middle" fill="#333" stroke="#333" stroke-width="0.12">10<tspan font-size="3.6" dy="-2.0">1</tspan></text>
<text x="417.55" y="300.40" font-size="4.8" text-anchor="middle" fill="#333" stroke="#333" stroke-width="0.12">10<tspan font-size="3.6" dy="-2.0">2</tspan></text>
<text x="441.18" y="300.40" font-size="4.8" text-anchor="middle" fill="#333" stroke="#333" stroke-width="0.12">10<tspan font-size="3.6" dy="-2.0">3</tspan></text>
<text x="464.80" y="300.40" font-size="4.8" text-anchor="middle" fill="#333" stroke="#333" stroke-width="0.12">10<tspan font-size="3.6" dy="-2.0">4</tspan></text>
<text x="415.35" y="304.40" font-size="4.5" text-anchor="middle" fill="#333" font-weight="normal" stroke="#333" stroke-width="0.12">FL2-H</text>
<text x="413.50" y="186.90" font-size="9.3" text-anchor="middle" fill="#2a2a2a" font-weight="normal"  stroke="#2a2a2a" stroke-width="0.18">CXCR2</text>
<path d="M369.9,293.4 L370.5,293.4 L371.0,293.3 L371.6,292.3 L372.1,292.9 L372.7,292.7 L373.2,292.8 L373.8,292.3 L374.3,292.4 L374.9,292.7 L375.4,292.4 L376.0,292.7 L376.5,292.2 L377.1,292.3 L377.6,293.1 L378.2,292.7 L378.7,292.8 L379.3,293.1 L379.8,292.6 L380.4,292.2 L380.9,293.2 L381.5,292.9 L382.0,293.0 L382.6,293.0 L383.1,293.4 L383.7,292.6 L384.2,293.1 L384.8,292.6 L385.3,292.9 L385.9,293.0 L386.4,292.6 L387.0,292.3 L387.5,292.8 L388.1,293.1 L388.6,292.9 L389.2,292.7 L389.7,293.0 L390.3,292.4 L390.8,292.4 L391.4,292.6 L391.9,293.2 L392.5,292.4 L393.0,292.3 L393.6,292.3 L394.1,292.2 L394.7,292.5 L395.2,292.9 L395.8,293.2 L396.3,292.6 L396.9,292.6 L397.4,292.5 L398.0,292.5 L398.5,293.2 L399.1,292.9 L399.6,292.5 L400.2,292.3 L400.7,293.2 L401.3,293.1 L401.8,293.2 L402.4,292.4 L402.9,292.8 L403.5,293.3 L404.0,292.7 L404.6,293.1 L405.1,291.9 L405.7,292.9 L406.2,291.5 L406.8,291.9 L407.3,291.2 L407.9,292.3 L408.4,292.0 L409.0,292.4 L409.5,292.1 L410.1,292.3 L410.6,291.6 L411.2,292.1 L411.7,291.6 L412.3,290.7 L412.8,291.5 L413.4,290.2 L413.9,289.8 L414.5,289.5 L415.0,290.0 L415.6,289.0 L416.1,289.7 L416.7,289.0 L417.2,287.1 L417.8,286.6 L418.3,286.4 L418.9,283.9 L419.4,283.5 L420.0,283.8 L420.5,280.4 L421.1,278.2 L421.6,277.7 L422.2,275.2 L422.7,272.7 L423.3,272.1 L423.8,269.6 L424.4,269.4 L424.9,266.5 L425.5,262.4 L426.0,260.5 L426.6,258.6 L427.1,256.5 L427.7,254.2 L428.2,253.1 L428.8,251.8 L429.3,251.6 L429.9,249.3 L430.4,248.9 L431.0,251.5 L431.5,250.3 L432.1,253.6 L432.6,253.8 L433.2,257.5 L433.7,261.1 L434.3,259.1 L434.8,264.1 L435.4,263.2 L435.9,268.6 L436.5,271.1 L437.0,270.8 L437.6,273.3 L438.1,275.4 L438.7,278.4 L439.2,282.1 L439.8,281.9 L440.3,283.4 L440.9,285.7 L441.4,285.9 L442.0,289.1 L442.5,288.4 L443.1,289.7 L443.6,289.7 L444.2,291.1 L444.7,291.8 L445.3,291.4 L445.8,292.3 L446.4,292.0 L446.9,292.4 L447.5,292.2 L448.0,292.3 L448.6,292.3 L449.1,292.0 L449.7,293.0 L450.2,291.9 L450.8,293.1 L451.3,293.1 L451.9,292.7 L452.4,293.1 L453.0,293.0 L453.5,293.0 L454.1,292.6 L454.6,292.7 L455.2,292.7 L455.7,292.6 L456.3,293.4 L456.8,292.5 L457.4,292.5 L457.9,292.5 L458.5,292.9 L459.0,292.3 L459.6,292.3 L460.1,291.7 L460.7,291.7 L461.2,291.3 L461.8,291.4 L462.3,291.3 L462.9,292.2 L463.4,291.6" fill="none" stroke="#e8e060" stroke-width="2.0" stroke-linejoin="round" opacity="0.28"/>
<path d="M369.9,292.9 L370.5,292.5 L371.0,292.1 L371.6,293.0 L372.1,292.4 L372.7,292.4 L373.2,292.6 L373.8,293.0 L374.3,293.6 L374.9,292.7 L375.4,293.6 L376.0,293.6 L376.5,292.4 L377.1,292.1 L377.6,292.3 L378.2,293.3 L378.7,293.0 L379.3,293.4 L379.8,293.5 L380.4,293.0 L380.9,292.9 L381.5,292.1 L382.0,292.1 L382.6,293.3 L383.1,293.1 L383.7,293.2 L384.2,292.9 L384.8,293.1 L385.3,293.0 L385.9,293.4 L386.4,292.2 L387.0,292.8 L387.5,292.5 L388.1,293.3 L388.6,293.4 L389.2,292.4 L389.7,292.2 L390.3,292.4 L390.8,292.5 L391.4,293.2 L391.9,292.7 L392.5,293.2 L393.0,292.5 L393.6,292.8 L394.1,292.3 L394.7,293.0 L395.2,292.8 L395.8,293.4 L396.3,293.5 L396.9,292.8 L397.4,292.1 L398.0,293.5 L398.5,293.5 L399.1,292.8 L399.6,292.8 L400.2,293.5 L400.7,292.4 L401.3,292.4 L401.8,293.1 L402.4,293.1 L402.9,293.1 L403.5,293.2 L404.0,292.7 L404.6,292.5 L405.1,292.1 L405.7,292.0 L406.2,292.2 L406.8,292.2 L407.3,292.6 L407.9,292.3 L408.4,292.1 L409.0,291.8 L409.5,292.2 L410.1,291.8 L410.6,292.5 L411.2,292.1 L411.7,292.0 L412.3,291.3 L412.8,291.3 L413.4,291.5 L413.9,291.8 L414.5,290.9 L415.0,290.5 L415.6,291.0 L416.1,289.4 L416.7,289.2 L417.2,288.0 L417.8,288.8 L418.3,287.8 L418.9,286.6 L419.4,285.7 L420.0,283.8 L420.5,281.3 L421.1,280.6 L421.6,275.9 L422.2,277.0 L422.7,274.8 L423.3,274.4 L423.8,268.4 L424.4,269.3 L424.9,265.1 L425.5,266.7 L426.0,261.3 L426.6,256.5 L427.1,258.3 L427.7,256.7 L428.2,252.7 L428.8,252.7 L429.3,250.1 L429.9,248.3 L430.4,249.3 L431.0,254.8 L431.5,253.4 L432.1,257.8 L432.6,261.9 L433.2,263.5 L433.7,264.2 L434.3,268.6 L434.8,269.2 L435.4,273.0 L435.9,274.9 L436.5,273.9 L437.0,277.2 L437.6,280.7 L438.1,282.7 L438.7,283.9 L439.2,285.3 L439.8,286.4 L440.3,286.8 L440.9,288.5 L441.4,290.5 L442.0,289.5 L442.5,290.2 L443.1,291.1 L443.6,292.0 L444.2,291.2 L444.7,292.3 L445.3,292.2 L445.8,292.5 L446.4,292.6 L446.9,292.5 L447.5,292.3 L448.0,292.0 L448.6,292.5 L449.1,291.9 L449.7,292.1 L450.2,292.9 L450.8,292.8 L451.3,292.1 L451.9,292.6 L452.4,292.9 L453.0,292.4 L453.5,293.1 L454.1,292.3 L454.6,292.4 L455.2,292.8 L455.7,292.6 L456.3,293.2 L456.8,292.6 L457.4,292.3 L457.9,293.1 L458.5,293.0 L459.0,292.8 L459.6,291.6 L460.1,291.7 L460.7,291.3 L461.2,292.3 L461.8,291.7 L462.3,291.0 L462.9,292.4 L463.4,290.9" fill="none" stroke="#f0c040" stroke-width="2.0" stroke-linejoin="round" opacity="0.25"/>
<path d="M369.9,293.4 L370.5,293.4 L371.0,293.3 L371.6,292.3 L372.1,292.9 L372.7,292.7 L373.2,292.8 L373.8,292.3 L374.3,292.4 L374.9,292.7 L375.4,292.4 L376.0,292.7 L376.5,292.2 L377.1,292.3 L377.6,293.1 L378.2,292.7 L378.7,292.8 L379.3,293.1 L379.8,292.6 L380.4,292.2 L380.9,293.2 L381.5,292.9 L382.0,293.0 L382.6,293.0 L383.1,293.4 L383.7,292.6 L384.2,293.1 L384.8,292.6 L385.3,292.9 L385.9,293.0 L386.4,292.6 L387.0,292.3 L387.5,292.8 L388.1,293.1 L388.6,292.9 L389.2,292.7 L389.7,293.0 L390.3,292.4 L390.8,292.4 L391.4,292.6 L391.9,293.2 L392.5,292.4 L393.0,292.3 L393.6,292.3 L394.1,292.2 L394.7,292.5 L395.2,292.9 L395.8,293.2 L396.3,292.6 L396.9,292.6 L397.4,292.5 L398.0,292.5 L398.5,293.2 L399.1,292.9 L399.6,292.5 L400.2,292.3 L400.7,293.2 L401.3,293.1 L401.8,293.2 L402.4,292.4 L402.9,292.8 L403.5,293.3 L404.0,292.7 L404.6,293.1 L405.1,291.9 L405.7,292.9 L406.2,291.5 L406.8,291.9 L407.3,291.2 L407.9,292.3 L408.4,292.0 L409.0,292.4 L409.5,292.1 L410.1,292.3 L410.6,291.6 L411.2,292.1 L411.7,291.6 L412.3,290.7 L412.8,291.5 L413.4,290.2 L413.9,289.8 L414.5,289.5 L415.0,290.0 L415.6,289.0 L416.1,289.7 L416.7,289.0 L417.2,287.1 L417.8,286.6 L418.3,286.4 L418.9,283.9 L419.4,283.5 L420.0,283.8 L420.5,280.4 L421.1,278.2 L421.6,277.7 L422.2,275.2 L422.7,272.7 L423.3,272.1 L423.8,269.6 L424.4,269.4 L424.9,266.5 L425.5,262.4 L426.0,260.5 L426.6,258.6 L427.1,256.5 L427.7,254.2 L428.2,253.1 L428.8,251.8 L429.3,251.6 L429.9,249.3 L430.4,248.9 L431.0,251.5 L431.5,250.3 L432.1,253.6 L432.6,253.8 L433.2,257.5 L433.7,261.1 L434.3,259.1 L434.8,264.1 L435.4,263.2 L435.9,268.6 L436.5,271.1 L437.0,270.8 L437.6,273.3 L438.1,275.4 L438.7,278.4 L439.2,282.1 L439.8,281.9 L440.3,283.4 L440.9,285.7 L441.4,285.9 L442.0,289.1 L442.5,288.4 L443.1,289.7 L443.6,289.7 L444.2,291.1 L444.7,291.8 L445.3,291.4 L445.8,292.3 L446.4,292.0 L446.9,292.4 L447.5,292.2 L448.0,292.3 L448.6,292.3 L449.1,292.0 L449.7,293.0 L450.2,291.9 L450.8,293.1 L451.3,293.1 L451.9,292.7 L452.4,293.1 L453.0,293.0 L453.5,293.0 L454.1,292.6 L454.6,292.7 L455.2,292.7 L455.7,292.6 L456.3,293.4 L456.8,292.5 L457.4,292.5 L457.9,292.5 L458.5,292.9 L459.0,292.3 L459.6,292.3 L460.1,291.7 L460.7,291.7 L461.2,291.3 L461.8,291.4 L462.3,291.3 L462.9,292.2 L463.4,291.6" fill="none" stroke="#92e46c" stroke-width="1.0" stroke-linejoin="round" opacity="0.95"/>
<path d="M369.9,292.9 L370.5,292.5 L371.0,292.1 L371.6,293.0 L372.1,292.4 L372.7,292.4 L373.2,292.6 L373.8,293.0 L374.3,293.6 L374.9,292.7 L375.4,293.6 L376.0,293.6 L376.5,292.4 L377.1,292.1 L377.6,292.3 L378.2,293.3 L378.7,293.0 L379.3,293.4 L379.8,293.5 L380.4,293.0 L380.9,292.9 L381.5,292.1 L382.0,292.1 L382.6,293.3 L383.1,293.1 L383.7,293.2 L384.2,292.9 L384.8,293.1 L385.3,293.0 L385.9,293.4 L386.4,292.2 L387.0,292.8 L387.5,292.5 L388.1,293.3 L388.6,293.4 L389.2,292.4 L389.7,292.2 L390.3,292.4 L390.8,292.5 L391.4,293.2 L391.9,292.7 L392.5,293.2 L393.0,292.5 L393.6,292.8 L394.1,292.3 L394.7,293.0 L395.2,292.8 L395.8,293.4 L396.3,293.5 L396.9,292.8 L397.4,292.1 L398.0,293.5 L398.5,293.5 L399.1,292.8 L399.6,292.8 L400.2,293.5 L400.7,292.4 L401.3,292.4 L401.8,293.1 L402.4,293.1 L402.9,293.1 L403.5,293.2 L404.0,292.7 L404.6,292.5 L405.1,292.1 L405.7,292.0 L406.2,292.2 L406.8,292.2 L407.3,292.6 L407.9,292.3 L408.4,292.1 L409.0,291.8 L409.5,292.2 L410.1,291.8 L410.6,292.5 L411.2,292.1 L411.7,292.0 L412.3,291.3 L412.8,291.3 L413.4,291.5 L413.9,291.8 L414.5,290.9 L415.0,290.5 L415.6,291.0 L416.1,289.4 L416.7,289.2 L417.2,288.0 L417.8,288.8 L418.3,287.8 L418.9,286.6 L419.4,285.7 L420.0,283.8 L420.5,281.3 L421.1,280.6 L421.6,275.9 L422.2,277.0 L422.7,274.8 L423.3,274.4 L423.8,268.4 L424.4,269.3 L424.9,265.1 L425.5,266.7 L426.0,261.3 L426.6,256.5 L427.1,258.3 L427.7,256.7 L428.2,252.7 L428.8,252.7 L429.3,250.1 L429.9,248.3 L430.4,249.3 L431.0,254.8 L431.5,253.4 L432.1,257.8 L432.6,261.9 L433.2,263.5 L433.7,264.2 L434.3,268.6 L434.8,269.2 L435.4,273.0 L435.9,274.9 L436.5,273.9 L437.0,277.2 L437.6,280.7 L438.1,282.7 L438.7,283.9 L439.2,285.3 L439.8,286.4 L440.3,286.8 L440.9,288.5 L441.4,290.5 L442.0,289.5 L442.5,290.2 L443.1,291.1 L443.6,292.0 L444.2,291.2 L444.7,292.3 L445.3,292.2 L445.8,292.5 L446.4,292.6 L446.9,292.5 L447.5,292.3 L448.0,292.0 L448.6,292.5 L449.1,291.9 L449.7,292.1 L450.2,292.9 L450.8,292.8 L451.3,292.1 L451.9,292.6 L452.4,292.9 L453.0,292.4 L453.5,293.1 L454.1,292.3 L454.6,292.4 L455.2,292.8 L455.7,292.6 L456.3,293.2 L456.8,292.6 L457.4,292.3 L457.9,293.1 L458.5,293.0 L459.0,292.8 L459.6,291.6 L460.1,291.7 L460.7,291.3 L461.2,292.3 L461.8,291.7 L462.3,291.0 L462.9,292.4 L463.4,290.9" fill="none" stroke="#b8412a" stroke-width="0.9" stroke-linejoin="round" opacity="0.82"/>
<line x1="370.20" y1="284.00" x2="370.20" y2="292.80" stroke="#b4e050" stroke-width="1.0"/>
<line x1="370.20" y1="289.88" x2="370.20" y2="293.30" stroke="#a03020" stroke-width="1.0"/>
<line x1="39.50" y1="389.40" x2="39.50" y2="561.90" stroke="#3a3a3a" stroke-width="0.8"/>
<line x1="34.70" y1="561.40" x2="39.50" y2="561.40" stroke="#3a3a3a" stroke-width="0.8"/>
<text x="33.40" y="564.21" font-size="7.3" text-anchor="end" fill="#333" font-weight="normal"  stroke="#333" stroke-width="0.18">0</text>
<line x1="34.70" y1="536.90" x2="39.50" y2="536.90" stroke="#3a3a3a" stroke-width="0.8"/>
<text x="33.40" y="539.71" font-size="7.3" text-anchor="end" fill="#333" font-weight="normal"  stroke="#333" stroke-width="0.18">1</text>
<line x1="34.70" y1="512.40" x2="39.50" y2="512.40" stroke="#3a3a3a" stroke-width="0.8"/>
<text x="33.40" y="515.21" font-size="7.3" text-anchor="end" fill="#333" font-weight="normal"  stroke="#333" stroke-width="0.18">2</text>
<line x1="34.70" y1="487.90" x2="39.50" y2="487.90" stroke="#3a3a3a" stroke-width="0.8"/>
<text x="33.40" y="490.71" font-size="7.3" text-anchor="end" fill="#333" font-weight="normal"  stroke="#333" stroke-width="0.18">3</text>
<line x1="34.70" y1="463.40" x2="39.50" y2="463.40" stroke="#3a3a3a" stroke-width="0.8"/>
<text x="33.40" y="466.21" font-size="7.3" text-anchor="end" fill="#333" font-weight="normal"  stroke="#333" stroke-width="0.18">4</text>
<line x1="34.70" y1="438.90" x2="39.50" y2="438.90" stroke="#3a3a3a" stroke-width="0.8"/>
<text x="33.40" y="441.71" font-size="7.3" text-anchor="end" fill="#333" font-weight="normal"  stroke="#333" stroke-width="0.18">5</text>
<line x1="34.70" y1="414.40" x2="39.50" y2="414.40" stroke="#3a3a3a" stroke-width="0.8"/>
<text x="33.40" y="417.21" font-size="7.3" text-anchor="end" fill="#333" font-weight="normal"  stroke="#333" stroke-width="0.18">6</text>
<line x1="34.70" y1="389.90" x2="39.50" y2="389.90" stroke="#3a3a3a" stroke-width="0.8"/>
<text x="33.40" y="392.71" font-size="7.3" text-anchor="end" fill="#333" font-weight="normal"  stroke="#333" stroke-width="0.18">7</text>
<line x1="39.00" y1="561.40" x2="143.40" y2="561.40" stroke="#3a3a3a" stroke-width="0.8"/>
<text transform="translate(21.80,495.30) rotate(-90) scale(1,1.06)" font-size="9" fill="#1a1a1a" stroke="#1a1a1a" stroke-width="0.15">Cells*10<tspan font-size="7.4" dy="-7.1" dx="0.7">6</tspan></text>
<line x1="61.18" y1="524.20" x2="61.18" y2="531.55" stroke="#222" stroke-width="0.9"/>
<line x1="59.28" y1="524.30" x2="63.08" y2="524.30" stroke="#222" stroke-width="1.25"/>
<rect x="53.95" y="531.05" width="14.45" height="30.35" fill="#fff" stroke="#222" stroke-width="1"/>
<line x1="75.45" y1="496.20" x2="75.45" y2="498.85" stroke="#222" stroke-width="0.9"/>
<line x1="73.55" y1="496.30" x2="77.35" y2="496.30" stroke="#222" stroke-width="1.25"/>
<rect x="68.40" y="498.35" width="14.10" height="63.05" fill="#333" stroke="#222" stroke-width="1"/>
<line x1="104.12" y1="468.80" x2="104.12" y2="476.35" stroke="#222" stroke-width="0.9"/>
<line x1="102.22" y1="468.90" x2="106.03" y2="468.90" stroke="#222" stroke-width="1.25"/>
<rect x="97.05" y="475.85" width="14.15" height="85.55" fill="#fff" stroke="#222" stroke-width="1"/>
<line x1="118.45" y1="413.50" x2="118.45" y2="422.45" stroke="#222" stroke-width="0.9"/>
<line x1="116.55" y1="413.60" x2="120.35" y2="413.60" stroke="#222" stroke-width="1.25"/>
<rect x="111.20" y="421.95" width="14.50" height="139.45" fill="#333" stroke="#222" stroke-width="1"/>
<path d="M60.85,490.40 V487.80 H75.60 V490.40" fill="none" stroke="#1a1a1a" stroke-width="1.05"/>
<text x="68.90" y="481.90" font-size="9.4" text-anchor="middle" fill="#222" font-weight="normal" stroke="#222" stroke-width="0.35" letter-spacing="1.2">*</text>
<path d="M104.15,407.30 V404.70 H118.70 V407.30" fill="none" stroke="#1a1a1a" stroke-width="1.05"/>
<text x="112.40" y="399.80" font-size="9.4" text-anchor="middle" fill="#222" font-weight="normal" stroke="#222" stroke-width="0.35" letter-spacing="1.2">**</text>
<text x="68.20" y="577.40" font-size="9" text-anchor="middle" fill="#2e2e2e" font-weight="normal"  stroke="#2e2e2e" stroke-width="0.18">Co</text>
<text x="111.00" y="577.40" font-size="9" text-anchor="middle" fill="#2e2e2e" font-weight="normal"  stroke="#2e2e2e" stroke-width="0.18">IL-8</text>
<line x1="235.00" y1="389.60" x2="235.00" y2="563.00" stroke="#3a3a3a" stroke-width="0.8"/>
<line x1="230.30" y1="562.50" x2="235.00" y2="562.50" stroke="#3a3a3a" stroke-width="0.8"/>
<text x="229.40" y="565.31" font-size="7.3" text-anchor="end" fill="#333" font-weight="normal"  stroke="#333" stroke-width="0.18">0</text>
<line x1="230.30" y1="540.95" x2="235.00" y2="540.95" stroke="#3a3a3a" stroke-width="0.8"/>
<text x="229.40" y="543.76" font-size="7.3" text-anchor="end" fill="#333" font-weight="normal"  stroke="#333" stroke-width="0.18">2</text>
<line x1="230.30" y1="519.40" x2="235.00" y2="519.40" stroke="#3a3a3a" stroke-width="0.8"/>
<text x="229.40" y="522.21" font-size="7.3" text-anchor="end" fill="#333" font-weight="normal"  stroke="#333" stroke-width="0.18">4</text>
<line x1="230.30" y1="497.85" x2="235.00" y2="497.85" stroke="#3a3a3a" stroke-width="0.8"/>
<text x="229.40" y="500.66" font-size="7.3" text-anchor="end" fill="#333" font-weight="normal"  stroke="#333" stroke-width="0.18">6</text>
<line x1="230.30" y1="476.30" x2="235.00" y2="476.30" stroke="#3a3a3a" stroke-width="0.8"/>
<text x="229.40" y="479.11" font-size="7.3" text-anchor="end" fill="#333" font-weight="normal"  stroke="#333" stroke-width="0.18">8</text>
<line x1="230.30" y1="454.75" x2="235.00" y2="454.75" stroke="#3a3a3a" stroke-width="0.8"/>
<text x="229.40" y="457.56" font-size="7.3" text-anchor="end" fill="#333" font-weight="normal"  stroke="#333" stroke-width="0.18">10</text>
<line x1="230.30" y1="433.20" x2="235.00" y2="433.20" stroke="#3a3a3a" stroke-width="0.8"/>
<text x="229.40" y="436.01" font-size="7.3" text-anchor="end" fill="#333" font-weight="normal"  stroke="#333" stroke-width="0.18">12</text>
<line x1="230.30" y1="411.65" x2="235.00" y2="411.65" stroke="#3a3a3a" stroke-width="0.8"/>
<text x="229.40" y="414.46" font-size="7.3" text-anchor="end" fill="#333" font-weight="normal"  stroke="#333" stroke-width="0.18">14</text>
<line x1="230.30" y1="390.10" x2="235.00" y2="390.10" stroke="#3a3a3a" stroke-width="0.8"/>
<text x="229.40" y="392.91" font-size="7.3" text-anchor="end" fill="#333" font-weight="normal"  stroke="#333" stroke-width="0.18">16</text>
<line x1="234.50" y1="562.50" x2="300.40" y2="562.50" stroke="#3a3a3a" stroke-width="0.8"/>
<text transform="translate(216.50,495.30) rotate(-90) scale(1,1.06)" font-size="9" fill="#1a1a1a" stroke="#1a1a1a" stroke-width="0.15">Cells*10<tspan font-size="7.4" dy="-7.1" dx="0.7">6</tspan></text>
<line x1="256.68" y1="490.50" x2="256.68" y2="501.35" stroke="#222" stroke-width="0.9"/>
<line x1="254.78" y1="490.60" x2="258.57" y2="490.60" stroke="#222" stroke-width="1.25"/>
<rect x="249.75" y="500.85" width="13.85" height="61.65" fill="#fff" stroke="#222" stroke-width="1"/>
<line x1="270.65" y1="396.20" x2="270.65" y2="426.85" stroke="#222" stroke-width="0.9"/>
<line x1="268.75" y1="396.30" x2="272.55" y2="396.30" stroke="#222" stroke-width="1.25"/>
<rect x="263.60" y="426.35" width="14.10" height="136.15" fill="#333" stroke="#222" stroke-width="1"/>
<path d="M256.70,390.80 V388.20 H270.70 V390.80" fill="none" stroke="#1a1a1a" stroke-width="1.05"/>
<text x="264.40" y="382.40" font-size="9.4" text-anchor="middle" fill="#222" font-weight="normal" stroke="#222" stroke-width="0.35" letter-spacing="1.2">*</text>
<text x="263.60" y="577.40" font-size="9" text-anchor="middle" fill="#2e2e2e" font-weight="normal"  stroke="#2e2e2e" stroke-width="0.18">12hr</text>
<line x1="369.70" y1="389.60" x2="369.70" y2="561.90" stroke="#3a3a3a" stroke-width="0.8"/>
<line x1="365.20" y1="561.40" x2="369.70" y2="561.40" stroke="#3a3a3a" stroke-width="0.8"/>
<text x="364.10" y="564.21" font-size="7.3" text-anchor="end" fill="#333" font-weight="normal"  stroke="#333" stroke-width="0.18">0</text>
<line x1="365.20" y1="532.85" x2="369.70" y2="532.85" stroke="#3a3a3a" stroke-width="0.8"/>
<text x="364.10" y="535.66" font-size="7.3" text-anchor="end" fill="#333" font-weight="normal"  stroke="#333" stroke-width="0.18">2</text>
<line x1="365.20" y1="504.30" x2="369.70" y2="504.30" stroke="#3a3a3a" stroke-width="0.8"/>
<text x="364.10" y="507.11" font-size="7.3" text-anchor="end" fill="#333" font-weight="normal"  stroke="#333" stroke-width="0.18">4</text>
<line x1="365.20" y1="475.75" x2="369.70" y2="475.75" stroke="#3a3a3a" stroke-width="0.8"/>
<text x="364.10" y="478.56" font-size="7.3" text-anchor="end" fill="#333" font-weight="normal"  stroke="#333" stroke-width="0.18">6</text>
<line x1="365.20" y1="447.20" x2="369.70" y2="447.20" stroke="#3a3a3a" stroke-width="0.8"/>
<text x="364.10" y="450.01" font-size="7.3" text-anchor="end" fill="#333" font-weight="normal"  stroke="#333" stroke-width="0.18">8</text>
<line x1="365.20" y1="418.65" x2="369.70" y2="418.65" stroke="#3a3a3a" stroke-width="0.8"/>
<text x="364.10" y="421.46" font-size="7.3" text-anchor="end" fill="#333" font-weight="normal"  stroke="#333" stroke-width="0.18">10</text>
<line x1="365.20" y1="390.10" x2="369.70" y2="390.10" stroke="#3a3a3a" stroke-width="0.8"/>
<text x="364.10" y="392.91" font-size="7.3" text-anchor="end" fill="#333" font-weight="normal"  stroke="#333" stroke-width="0.18">12</text>
<line x1="369.20" y1="561.40" x2="520.00" y2="561.40" stroke="#3a3a3a" stroke-width="0.8"/>
<text transform="translate(344.50,495.10) rotate(-90) scale(1,1.06)" font-size="9" fill="#1a1a1a" stroke="#1a1a1a" stroke-width="0.15">Cells*10<tspan font-size="7.4" dy="-7.1" dx="0.7">6</tspan></text>
<line x1="391.73" y1="523.50" x2="391.73" y2="533.35" stroke="#222" stroke-width="0.9"/>
<line x1="389.83" y1="523.60" x2="393.62" y2="523.60" stroke="#222" stroke-width="1.25"/>
<rect x="384.65" y="532.85" width="14.15" height="28.55" fill="#fff" stroke="#222" stroke-width="1"/>
<line x1="405.80" y1="425.80" x2="405.80" y2="464.65" stroke="#222" stroke-width="0.9"/>
<line x1="403.90" y1="425.90" x2="407.70" y2="425.90" stroke="#222" stroke-width="1.25"/>
<rect x="398.80" y="464.15" width="14.00" height="97.25" fill="#333" stroke="#222" stroke-width="1"/>
<line x1="434.42" y1="515.40" x2="434.42" y2="522.05" stroke="#222" stroke-width="0.9"/>
<line x1="432.52" y1="515.50" x2="436.32" y2="515.50" stroke="#222" stroke-width="1.25"/>
<rect x="427.35" y="521.55" width="14.15" height="39.85" fill="#fff" stroke="#222" stroke-width="1"/>
<line x1="448.50" y1="496.50" x2="448.50" y2="503.65" stroke="#222" stroke-width="0.9"/>
<line x1="446.60" y1="496.60" x2="450.40" y2="496.60" stroke="#222" stroke-width="1.25"/>
<rect x="441.50" y="503.15" width="14.00" height="58.25" fill="#333" stroke="#222" stroke-width="1"/>
<line x1="477.32" y1="552.30" x2="477.32" y2="555.15" stroke="#222" stroke-width="0.9"/>
<line x1="475.43" y1="552.40" x2="479.22" y2="552.40" stroke="#222" stroke-width="1.25"/>
<rect x="470.45" y="554.65" width="13.75" height="6.75" fill="#fff" stroke="#222" stroke-width="1"/>
<line x1="491.35" y1="550.00" x2="491.35" y2="553.15" stroke="#222" stroke-width="0.9"/>
<line x1="489.45" y1="550.10" x2="493.25" y2="550.10" stroke="#222" stroke-width="1.25"/>
<rect x="484.20" y="552.65" width="14.30" height="8.75" fill="#333" stroke="#222" stroke-width="1"/>
<path d="M391.90,417.20 V414.60 H405.90 V417.20" fill="none" stroke="#1a1a1a" stroke-width="1.05"/>
<text x="398.70" y="407.90" font-size="9.2" text-anchor="middle" fill="#222" font-weight="normal" stroke="#222" stroke-width="0.2">#</text>
<text x="398.80" y="577.40" font-size="9" text-anchor="middle" fill="#2e2e2e" font-weight="normal"  stroke="#2e2e2e" stroke-width="0.18">NØ</text>
<text x="441.50" y="577.40" font-size="9" text-anchor="middle" fill="#2e2e2e" font-weight="normal"  stroke="#2e2e2e" stroke-width="0.18">MØ</text>
<text x="484.80" y="577.40" font-size="9" text-anchor="middle" fill="#2e2e2e" font-weight="normal"  stroke="#2e2e2e" stroke-width="0.18">LY</text>
</svg>
</body>
</html>
